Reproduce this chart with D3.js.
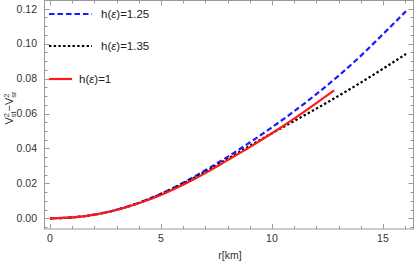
<!DOCTYPE html>
<html>
<head>
<meta charset="utf-8">
<script src="https://cdn.jsdelivr.net/npm/d3@7"></script>
<style>
  body { margin: 0; background: #fff; }
  svg { display: block; font-family: "Liberation Sans", Arial, sans-serif; }
</style>
</head>
<body>
<svg id="chart" width="415" height="263"></svg>
<script>
// radius in km
var rBlue  = [0, 1, 2, 3, 4, 5, 6, 7, 8, 9, 10, 11, 12, 13, 14, 15, 16.04];
var vBlue  = [0, 0.0005, 0.0021, 0.0049, 0.0089, 0.0141, 0.0204, 0.0275, 0.0352, 0.0434, 0.0521, 0.0613, 0.0711, 0.0816, 0.0930, 0.1054, 0.1186];
var rBlack = [0, 1, 2, 3, 4, 5, 6, 7, 8, 9, 10, 11, 12, 13, 14, 15, 16.04];
var vBlack = [0, 0.0005, 0.0021, 0.0049, 0.0088, 0.0139, 0.0199, 0.0267, 0.0340, 0.0415, 0.0487, 0.0557, 0.0628, 0.0701, 0.0777, 0.0856, 0.0941];
var rRed   = [0, 1, 2, 3, 4, 5, 6, 7, 8, 9, 10, 11, 12, 12.8];
var vRed   = [0, 0.0005, 0.0021, 0.0048, 0.0086, 0.0134, 0.0192, 0.0259, 0.0333, 0.0408, 0.0487, 0.0571, 0.0660, 0.0733];

var xTicks = [0, 5, 10, 15];
var yTicks = [0, 0.02, 0.04, 0.06, 0.08, 0.10, 0.12];

var series = [
  {name: "1.25", r: rBlue,  v: vBlue,  color: "#1a1aff", dash: "5.5,3",   len: 43, tx: 101},
  {name: "1.35", r: rBlack, v: vBlack, color: "#000",    dash: "2.4,2.3", len: 43, tx: 101},
  {name: "1",    r: rRed,   v: vRed,   color: "#ff1a1a", dash: null,      len: 23, tx: 79}
];

var W = 415, H = 263;
var margin = {left: 44, right: 1, top: 0.5, bottom: 34};

var svg = d3.select("#chart");

var x = d3.scaleLinear().domain([-0.27, 16.4]).range([margin.left, W - margin.right]);
var y = d3.scaleLinear().domain([-0.0061, 0.1247]).range([H - margin.bottom, margin.top]);

var frameColor = "#9a9a9a";

// frame
svg.append("rect")
  .attr("x", margin.left + 0.5).attr("y", margin.top)
  .attr("width", W - margin.right - margin.left - 1)
  .attr("height", H - margin.bottom - margin.top)
  .style("fill", "none").style("stroke", frameColor).style("stroke-width", 1);

// ticks on all four sides, pointing inward
var xMinor = d3.range(0, 17, 1);
var yMinor = d3.range(-0.005, 0.1251, 0.005);
var x0 = margin.left + 0.5, x1 = W - margin.right - 0.5;
var y0 = H - margin.bottom, y1 = margin.top;

xMinor.forEach(function(t){
  var major = xTicks.indexOf(t) >= 0;
  var len = major ? 5 : 3;
  var px = Math.round(x(t)) + 0.5;
  svg.append("line").attr("x1", px).attr("x2", px).attr("y1", y0).attr("y2", y0 - len)
    .style("stroke", frameColor);
  svg.append("line").attr("x1", px).attr("x2", px).attr("y1", y1).attr("y2", y1 + len)
    .style("stroke", frameColor);
});

yMinor.forEach(function(t){
  var major = yTicks.some(function(m){ return Math.abs(m - t) < 1e-6; });
  var len = major ? 5 : 3;
  var py = Math.round(y(t)) + 0.5;
  svg.append("line").attr("x1", x0).attr("x2", x0 + len).attr("y1", py).attr("y2", py)
    .style("stroke", frameColor);
  svg.append("line").attr("x1", x1).attr("x2", x1 - len).attr("y1", py).attr("y2", py)
    .style("stroke", frameColor);
});

// tick labels
svg.selectAll(".xl").data(xTicks).enter().append("text")
  .attr("x", function(d){ return x(d); })
  .attr("y", 241.5)
  .attr("text-anchor", "middle")
  .style("font-size", "10.5px").style("fill", "#333")
  .text(function(d){ return d; });

svg.selectAll(".yl").data(yTicks).enter().append("text")
  .attr("x", 37)
  .attr("y", function(d){ return y(d) + 3.8; })
  .attr("text-anchor", "end")
  .style("font-size", "10.5px").style("fill", "#333")
  .text(d3.format(".2f"));

// axis titles
svg.append("text")
  .attr("x", 230).attr("y", 259)
  .attr("text-anchor", "middle")
  .style("font-size", "10.5px").style("fill", "#333")
  .text("r[km]");

var yt = svg.append("text")
  .attr("transform", "translate(13,108) rotate(-90)")
  .attr("text-anchor", "middle")
  .style("font-size", "11px").style("fill", "#333");
yt.append("tspan").text("V");
yt.append("tspan").attr("dy", -4).style("font-size", "7.5px").text("2");
yt.append("tspan").attr("dx", -4.2).attr("dy", 7).style("font-size", "7.5px").text("st");
yt.append("tspan").attr("dy", -3).text("\u2212V");
yt.append("tspan").attr("dy", -4).style("font-size", "7.5px").text("2");
yt.append("tspan").attr("dx", -4.2).attr("dy", 7).style("font-size", "7.5px").text("sr");

// curves
var line = d3.line()
  .x(function(d){ return x(d[0]); })
  .y(function(d){ return y(d[1]); })
  .curve(d3.curveMonotoneX);

svg.append("clipPath").attr("id", "plotArea").append("rect")
  .attr("x", margin.left).attr("y", margin.top)
  .attr("width", W - margin.left - margin.right)
  .attr("height", H - margin.bottom - margin.top);

series.forEach(function(s){
  var pts = s.r.map(function(r, i){ return [r, s.v[i]]; });
  svg.append("path")
    .attr("d", line(pts))
    .attr("clip-path", "url(#plotArea)")
    .style("fill", "none")
    .style("stroke", s.color)
    .style("stroke-width", 2.2)
    .style("stroke-dasharray", s.dash);
});

// legend
var legY = [14, 46, 79];
series.forEach(function(s, i){
  svg.append("line")
    .attr("x1", 49).attr("x2", 49 + s.len)
    .attr("y1", legY[i]).attr("y2", legY[i])
    .style("stroke", s.color).style("stroke-width", 2.2)
    .style("stroke-dasharray", s.dash);
  var t = svg.append("text")
    .attr("x", s.tx).attr("y", legY[i] + 4)
    .style("font-size", "11.5px").style("fill", "#222");
  t.append("tspan").text("h(");
  t.append("tspan").style("font-style", "italic").text("\u03b5");
  t.append("tspan").text(")=" + s.name);
});
</script>
</body>
</html>
